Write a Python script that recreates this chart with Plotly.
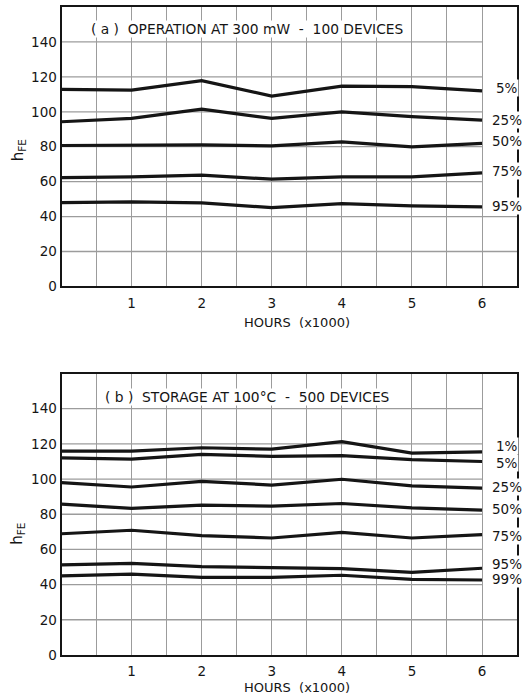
import plotly.graph_objects as go

# hours (x1000)
hours = [0, 1, 2, 3, 4, 5, 6]

# (a) operation at 300mW - 100 devices
op_labels = ['5%', '25%', '50%', '75%', '95%']
op_5 = [112.8, 112.4, 117.8, 109.0, 114.7, 114.4, 112.0]
op_25 = [94.3, 96.2, 101.5, 96.2, 100.0, 97.2, 95.2]
op_50 = [80.7, 80.7, 81.1, 80.5, 82.8, 79.9, 81.9]
op_75 = [62.3, 62.7, 63.7, 61.4, 62.7, 62.7, 65.0]
op_95 = [48.0, 48.4, 47.8, 45.1, 47.4, 46.1, 45.5]

# (b) storage at 100C - 500 devices
st_labels = ['1%', '5%', '25%', '50%', '75%', '95%', '99%']
st_1 = [115.9, 115.9, 117.8, 117.0, 121.3, 114.8, 115.5]
st_5 = [112.1, 111.3, 114.0, 112.9, 113.3, 111.0, 110.0]
st_25 = [98.0, 95.5, 98.7, 96.6, 99.9, 96.1, 94.9]
st_50 = [85.8, 83.3, 85.2, 84.6, 86.1, 83.6, 82.3]
st_75 = [68.9, 70.9, 67.8, 66.5, 69.7, 66.5, 68.4]
st_95 = [51.2, 52.1, 50.2, 49.8, 49.1, 47.0, 49.3]
st_99 = [44.9, 46.0, 44.1, 44.1, 45.3, 43.0, 42.6]

y_ticks = [0, 20, 40, 60, 80, 100, 120, 140]
x_ticks = [1, 2, 3, 4, 5, 6]

INK = '#151515'
GRID = '#9c9c9c'
FONT = 'DejaVu Sans'
H = 696

# grid every half unit, label only whole units
x_grid = []
x_text = []
for t in x_ticks:
    x_grid += [t - 0.5, t]
    x_text += ['', str(t)]

fig = go.Figure()

panels = [
    ('x', 'y', op_labels, [op_5, op_25, op_50, op_75, op_95],
     '( a )  OPERATION AT 300 mW  -  100 DEVICES', [1.5, 0, 1.5, 1, 0.5], 147.5, 40),
    ('x2', 'y2', st_labels, [st_1, st_5, st_25, st_50, st_75, st_95, st_99],
     '( b )  STORAGE AT 100°C  -  500 DEVICES', [3.5, -1, 0.5, 0.5, -1, 2.2, 0.6], 146.5, 20),
]

for xr, yr, labels, series, title, shifts, ty, full_below in panels:
    # horizontal grid stops at x=6 where the labels sit
    for v in y_ticks[1:]:
        fig.add_shape(type='line', xref=xr, yref=yr, x0=0,
                      x1=6.5 if v <= full_below else 6, y0=v, y1=v,
                      line=dict(color=GRID, width=1.3), layer='below')
    for lab, s, sh in zip(labels, series, shifts):
        fig.add_trace(go.Scatter(x=hours, y=s, xaxis=xr, yaxis=yr, mode='lines',
                                 line=dict(color=INK, width=3.2), showlegend=False))
        fig.add_annotation(x=6.36, y=s[-1] + sh, xref=xr, yref=yr, text=lab,
                           showarrow=False, bgcolor='white', borderpad=0,
                           xanchor='center', yanchor='middle',
                           font=dict(family=FONT, size=13.5, color=INK))
    fig.add_annotation(x=2.64, y=ty, xref=xr, yref=yr, text=title,
                       showarrow=False, bgcolor='white', borderpad=0,
                       xanchor='center', yanchor='middle',
                       font=dict(family=FONT, size=13.8, color=INK))

axis_x = dict(range=[0, 6.5], tickvals=x_grid, ticktext=x_text, showgrid=True,
              gridcolor=GRID, gridwidth=1.3,
              showline=True, linecolor=INK, linewidth=2, mirror=True,
              zeroline=False, ticks='', ticklabelstandoff=3,
              tickfont=dict(family=FONT, size=13.5, color=INK),
              domain=[0.117, 0.983])
axis_y = dict(range=[0, 160], tickvals=y_ticks, showgrid=False,
              showline=True, linecolor=INK, linewidth=2, mirror=True,
              zeroline=False, ticks='', ticklabelstandoff=0,
              tickfont=dict(family=FONT, size=13.5, color=INK))

fig.update_layout(
    width=526, height=705, margin=dict(l=0, r=0, t=0, b=0),
    paper_bgcolor='white', plot_bgcolor='white',
    xaxis=dict(axis_x, anchor='y'),
    yaxis=dict(axis_y, domain=[1 - 286 / H, 1 - 7 / H], anchor='x'),
    xaxis2=dict(axis_x, anchor='y2'),
    yaxis2=dict(axis_y, domain=[1 - 654 / H, 1 - 373 / H], anchor='x2'),
)

for yc in [322, 687]:
    fig.add_annotation(x=297 / 526, y=1 - yc / H, xref='paper', yref='paper',
                       text='HOURS  (x1000)', showarrow=False,
                       xanchor='center', yanchor='middle',
                       font=dict(family=FONT, size=13, color=INK))
for yc in [150, 533]:
    fig.add_annotation(x=18 / 526, y=1 - yc / H, xref='paper', yref='paper',
                       text='h<sub>FE</sub>', showarrow=False, textangle=-90,
                       xanchor='center', yanchor='middle',
                       font=dict(family=FONT, size=15, color=INK))

fig.write_html('out.html', config={'displayModeBar': False},
               post_script="document.body.style.margin='0';"
                           "document.body.style.overflow='hidden';")
